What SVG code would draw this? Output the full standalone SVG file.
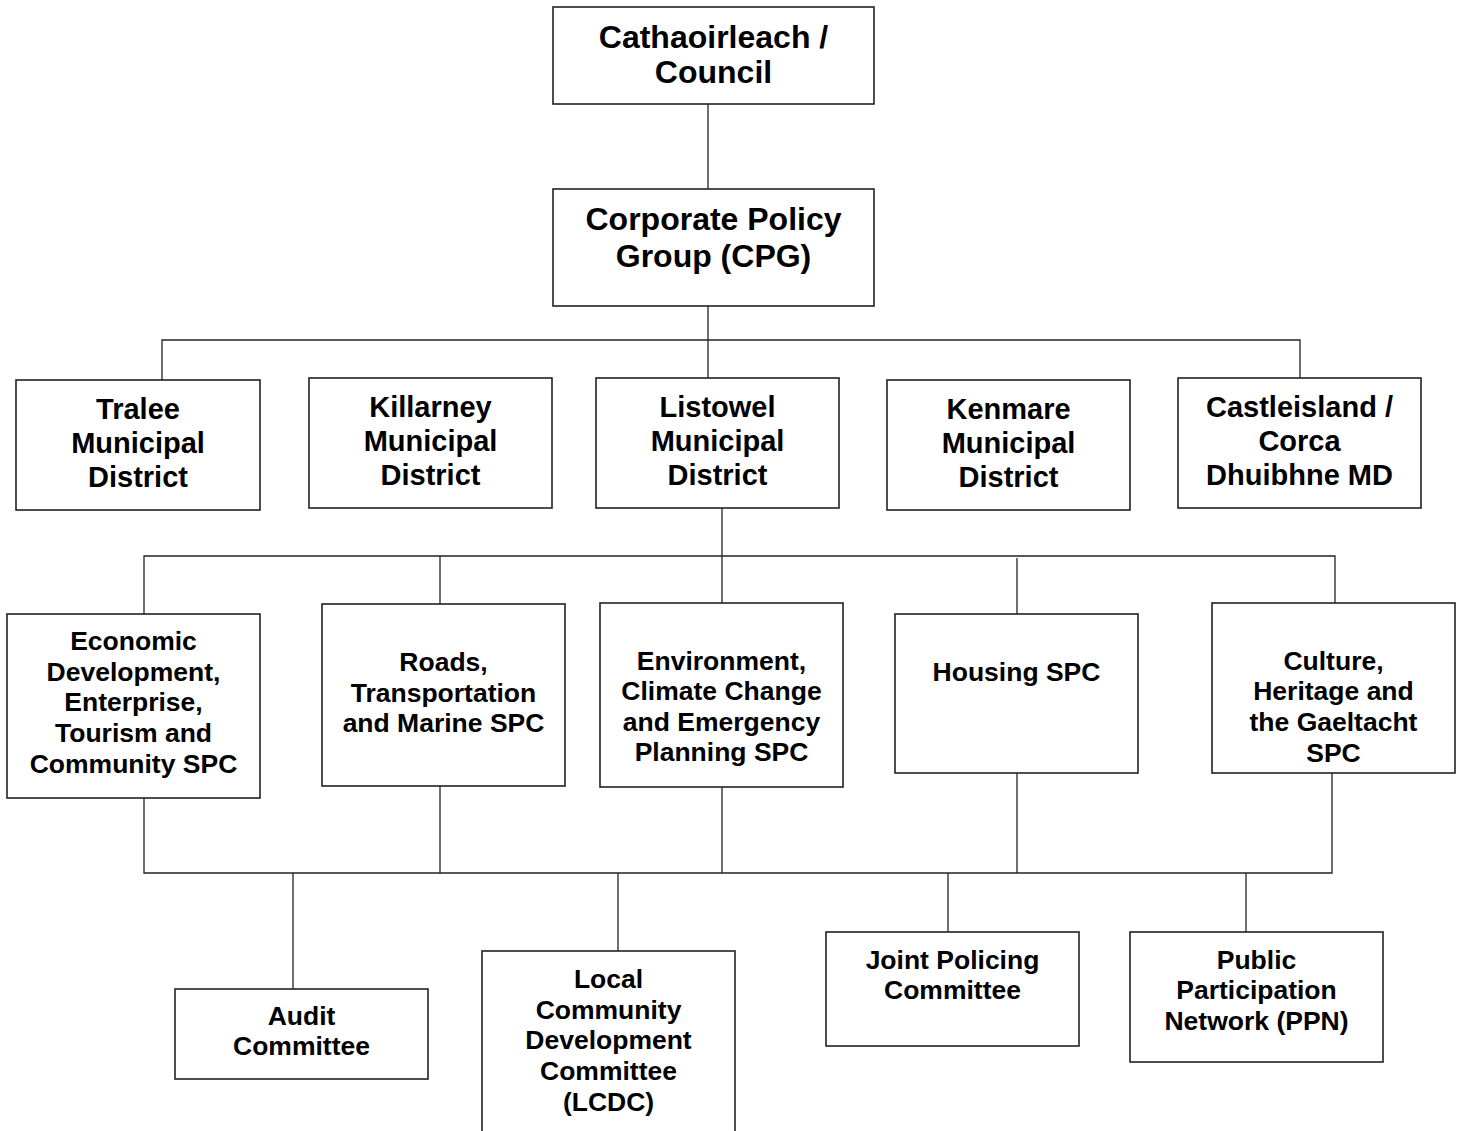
<svg xmlns="http://www.w3.org/2000/svg" width="1464" height="1131" viewBox="0 0 1464 1131">
<style>
.box{fill:#fff;stroke:#222;stroke-width:1.6}
.ln{fill:none;stroke:#222;stroke-width:1.3}
text{font-family:"Liberation Sans",Arial,sans-serif;font-weight:bold;fill:#000;text-anchor:middle}
.t1{font-size:32px}
.t2{font-size:29px}
.t3{font-size:26.5px}
</style>
<rect width="1464" height="1131" fill="#fff"/>
<g id="connectors">
<path class="ln" d="M708,104V378"/>
<path class="ln" d="M162,380V340H1300V378"/>
<path class="ln" d="M722,508V603"/>
<path class="ln" d="M144,614V556H1335V603"/>
<path class="ln" d="M440,556V604"/>
<path class="ln" d="M1017,558V614"/>
<path class="ln" d="M144,798V873H1332V773"/>
<path class="ln" d="M440,786V873"/>
<path class="ln" d="M722,787V873"/>
<path class="ln" d="M1017,773V873"/>
<path class="ln" d="M293,873V989"/>
<path class="ln" d="M618,873V951"/>
<path class="ln" d="M948,873V932"/>
<path class="ln" d="M1246,873V932"/>
</g>
<g id="council">
<rect class="box" x="553" y="7" width="321" height="97"/>
<text class="t1" x="713.5" y="48">Cathaoirleach /</text>
<text class="t1" x="713.5" y="83">Council</text>
</g>
<g id="cpg">
<rect class="box" x="553" y="189" width="321" height="117"/>
<text class="t1" x="713.5" y="230">Corporate Policy</text>
<text class="t1" x="713.5" y="267">Group (CPG)</text>
</g>
<g id="tralee">
<rect class="box" x="16" y="380" width="244" height="130"/>
<text class="t2" x="138" y="418.5">Tralee</text>
<text class="t2" x="138" y="452.5">Municipal</text>
<text class="t2" x="138" y="486.5">District</text>
</g>
<g id="killarney">
<rect class="box" x="309" y="378" width="243" height="130"/>
<text class="t2" x="430.5" y="416.5">Killarney</text>
<text class="t2" x="430.5" y="450.5">Municipal</text>
<text class="t2" x="430.5" y="484.5">District</text>
</g>
<g id="listowel">
<rect class="box" x="596" y="378" width="243" height="130"/>
<text class="t2" x="717.5" y="416.5">Listowel</text>
<text class="t2" x="717.5" y="450.5">Municipal</text>
<text class="t2" x="717.5" y="484.5">District</text>
</g>
<g id="kenmare">
<rect class="box" x="887" y="380" width="243" height="130"/>
<text class="t2" x="1008.5" y="418.5">Kenmare</text>
<text class="t2" x="1008.5" y="452.5">Municipal</text>
<text class="t2" x="1008.5" y="486.5">District</text>
</g>
<g id="castleisland">
<rect class="box" x="1178" y="378" width="243" height="130"/>
<text class="t2" x="1299.5" y="416.5">Castleisland /</text>
<text class="t2" x="1299.5" y="450.5">Corca</text>
<text class="t2" x="1299.5" y="484.5">Dhuibhne MD</text>
</g>
<g id="economic">
<rect class="box" x="7" y="614" width="253" height="184"/>
<text class="t3" x="133.5" y="649.5">Economic</text>
<text class="t3" x="133.5" y="680.5">Development,</text>
<text class="t3" x="133.5" y="710.5">Enterprise,</text>
<text class="t3" x="133.5" y="741.5">Tourism and</text>
<text class="t3" x="133.5" y="772.5">Community SPC</text>
</g>
<g id="roads">
<rect class="box" x="322" y="604" width="243" height="182"/>
<text class="t3" x="443.5" y="670.5">Roads,</text>
<text class="t3" x="443.5" y="701.5">Transportation</text>
<text class="t3" x="443.5" y="731.5">and Marine SPC</text>
</g>
<g id="environment">
<rect class="box" x="600" y="603" width="243" height="184"/>
<text class="t3" x="721.5" y="669.5">Environment,</text>
<text class="t3" x="721.5" y="699.5">Climate Change</text>
<text class="t3" x="721.5" y="730.5">and Emergency</text>
<text class="t3" x="721.5" y="760.5">Planning SPC</text>
</g>
<g id="housing">
<rect class="box" x="895" y="614" width="243" height="159"/>
<text class="t3" x="1016.5" y="680.5">Housing SPC</text>
</g>
<g id="culture">
<rect class="box" x="1212" y="603" width="243" height="170"/>
<text class="t3" x="1333.5" y="669.5">Culture,</text>
<text class="t3" x="1333.5" y="699.5">Heritage and</text>
<text class="t3" x="1333.5" y="730.5">the Gaeltacht</text>
<text class="t3" x="1333.5" y="761.5">SPC</text>
</g>
<g id="audit">
<rect class="box" x="175" y="989" width="253" height="90"/>
<text class="t3" x="301.5" y="1024.5">Audit</text>
<text class="t3" x="301.5" y="1054.5">Committee</text>
</g>
<g id="lcdc">
<rect class="box" x="482" y="951" width="253" height="195"/>
<text class="t3" x="608.5" y="987.5">Local</text>
<text class="t3" x="608.5" y="1018.5">Community</text>
<text class="t3" x="608.5" y="1048.5">Development</text>
<text class="t3" x="608.5" y="1079.5">Committee</text>
<text class="t3" x="608.5" y="1110.5">(LCDC)</text>
</g>
<g id="joint-policing">
<rect class="box" x="826" y="932" width="253" height="114"/>
<text class="t3" x="952.5" y="968.5">Joint Policing</text>
<text class="t3" x="952.5" y="998.5">Committee</text>
</g>
<g id="ppn">
<rect class="box" x="1130" y="932" width="253" height="130"/>
<text class="t3" x="1256.5" y="968.5">Public</text>
<text class="t3" x="1256.5" y="998.5">Participation</text>
<text class="t3" x="1256.5" y="1029.5">Network (PPN)</text>
</g>
</svg>
